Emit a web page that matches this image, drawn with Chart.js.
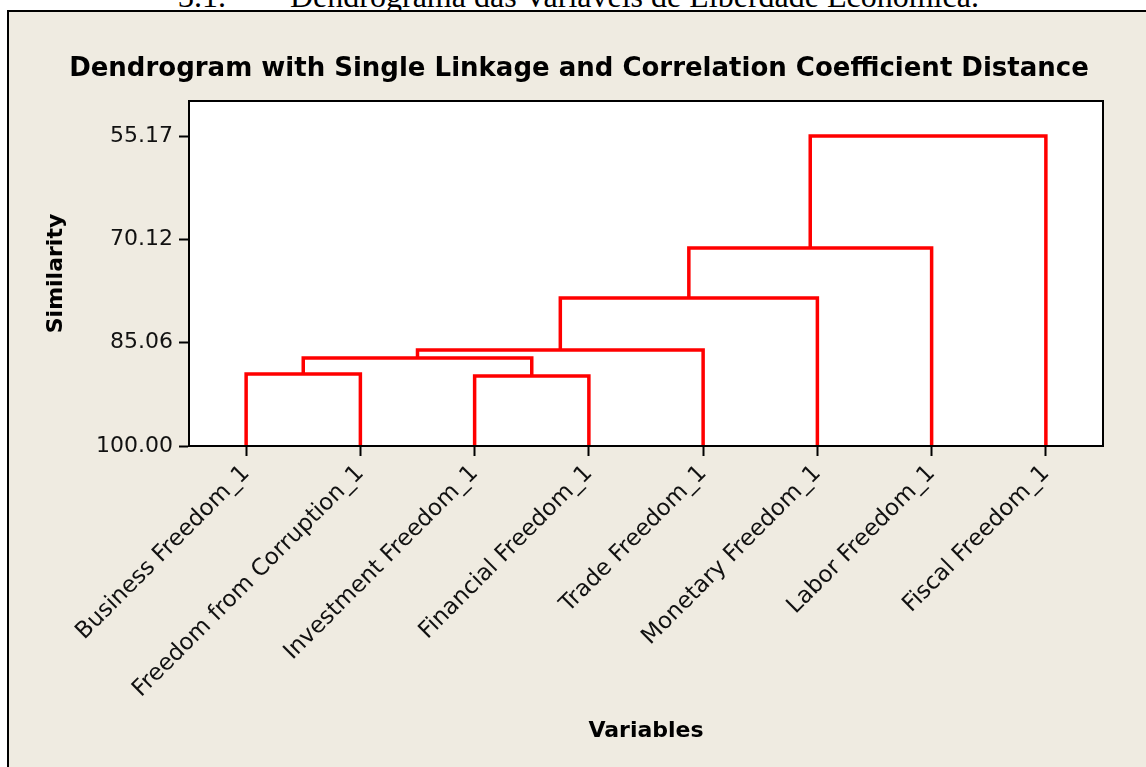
<!DOCTYPE html>
<html>
<head>
<meta charset="utf-8">
<script src="https://cdn.jsdelivr.net/npm/chart.js@4/dist/chart.umd.min.js"></script>
<style>
    body { margin: 0; background: #fff; width: 1146px; height: 767px; overflow: hidden; position: relative; }
    .caption { position: absolute; top: -20px; font: 32px/32px "Liberation Serif", "Times New Roman", serif; color: #000; white-space: nowrap; }
    #frame { position: absolute; left: 7px; top: 10px; width: 1139px; height: 757px; background: #EFEBE1; border-left: 2px solid #000; border-top: 2px solid #000; }
    #wrap { position: absolute; left: 0; top: 0; width: 1146px; height: 767px; }
</style>
</head>
<body>
<div class="caption" style="left:178px">3.1.</div>
<div class="caption" style="left:290px">Dendrograma das Variáveis de Liberdade Econômica.</div>
<div id="frame"></div>
<div id="wrap"><canvas id="dendro" width="1146" height="767"></canvas></div>
<script>
// Leaves, in plotted order
const variables = [
    'Business Freedom_1', 'Freedom from Corruption_1', 'Investment Freedom_1', 'Financial Freedom_1',
    'Trade Freedom_1', 'Monetary Freedom_1', 'Labor Freedom_1', 'Fiscal Freedom_1'
];
const yTicks = [55.17, 70.12, 85.06, 100.00];

// Linkage steps: clusters are numbered 8, 9, ... in merge order
const mergeA = [0, 2, 8, 10, 11, 12, 13];
const mergeB = [1, 3, 9, 4, 5, 6, 7];
const mergeSimilarity = [89.59, 89.88, 87.27, 86.12, 78.60, 71.37, 55.17];

const FONT = 'DejaVu Sans';

// build one bracket per merge
const nodePos = variables.map((_, i) => i);
const nodeSim = variables.map(() => 100);
const links = [];
mergeA.forEach((a, k) => {
    const b = mergeB[k];
    const h = mergeSimilarity[k];
    links.push({
        data: [
            { x: nodePos[a], y: nodeSim[a] },
            { x: nodePos[a], y: h },
            { x: nodePos[b], y: h },
            { x: nodePos[b], y: nodeSim[b] }
        ],
        showLine: true,
        borderColor: '#FF0000',
        borderWidth: 3.5,
        borderJoinStyle: 'miter',
        pointRadius: 0,
        tension: 0
    });
    nodePos.push((nodePos[a] + nodePos[b]) / 2);
    nodeSim.push(h);
});

const plotFrame = {
    id: 'plotFrame',
    beforeDraw(chart) {
        const { ctx, chartArea: a } = chart;
        ctx.save();
        ctx.fillStyle = '#fff';
        ctx.fillRect(a.left, a.top, a.right - a.left, a.bottom - a.top);
        ctx.restore();
    },
    afterDraw(chart) {
        const { ctx, chartArea: a } = chart;
        ctx.save();
        ctx.strokeStyle = '#000';
        ctx.lineWidth = 2;
        ctx.strokeRect(a.left, a.top, a.right - a.left, a.bottom - a.top);
        // figure title, centred on the whole frame
        ctx.fillStyle = '#000';
        ctx.font = `bold 26px "${FONT}"`;
        ctx.textAlign = 'center';
        ctx.textBaseline = 'alphabetic';
        ctx.fillText('Dendrogram with Single Linkage and Correlation Coefficient Distance', 579, 76);
        ctx.restore();
    }
};

const axisGrid = { drawOnChartArea: false, drawTicks: true, tickLength: 10, tickWidth: 2, tickColor: '#000', color: '#000' };
const axisBorder = { display: true, color: '#000', width: 2 };

new Chart(document.getElementById('dendro'), {
    type: 'scatter',
    data: { datasets: links },
    plugins: [plotFrame],
    options: {
        responsive: false,
        animation: false,
        layout: { padding: { left: 0, right: 43, top: 101, bottom: 0 } },
        plugins: { legend: { display: false }, tooltip: { enabled: false } },
        scales: {
            x: {
                type: 'linear',
                min: -0.5,
                max: 7.5,
                afterBuildTicks: (scale) => { scale.ticks = variables.map((_, i) => ({ value: i })); },
                afterFit: (scale) => { scale.height = 321; },
                ticks: {
                    autoSkip: false,
                    minRotation: 45,
                    maxRotation: 45,
                    padding: 4,
                    color: '#111',
                    font: { family: FONT, size: 23 },
                    callback: (v) => variables[v]
                },
                grid: axisGrid,
                border: axisBorder,
                title: {
                    display: true,
                    text: 'Variables',
                    color: '#000',
                    font: { family: FONT, size: 22, weight: 'bold' },
                    padding: { top: 0, bottom: 23 }
                }
            },
            y: {
                type: 'linear',
                reverse: true,
                min: 50.1,
                max: 100,
                afterBuildTicks: (scale) => { scale.ticks = yTicks.map(v => ({ value: v })); },
                afterFit: (scale) => { scale.width = 189; },
                ticks: {
                    padding: 6,
                    color: '#111',
                    font: { family: FONT, size: 22 },
                    callback: (v) => v.toFixed(2)
                },
                grid: axisGrid,
                border: axisBorder,
                title: {
                    display: true,
                    text: 'Similarity',
                    color: '#000',
                    font: { family: FONT, size: 22, weight: 'bold' },
                    padding: { top: 43, bottom: 0 }
                }
            }
        }
    }
});
</script>
</body>
</html>
